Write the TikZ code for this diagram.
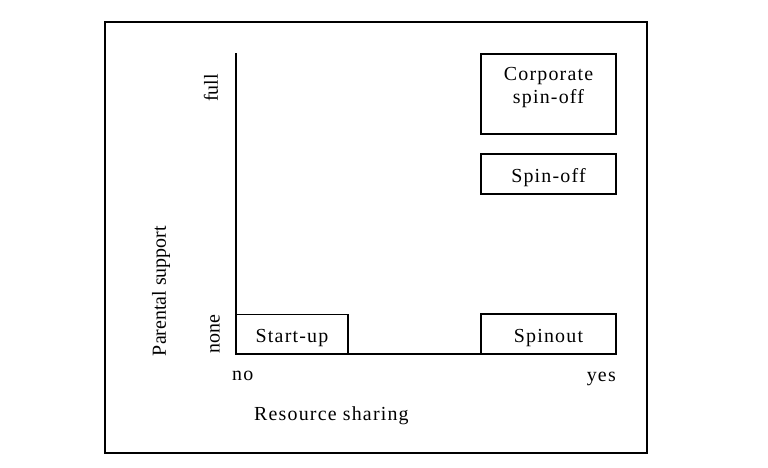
\documentclass[tikz,border=0pt]{standalone}
\usepackage{fontspec}
\setmainfont{Liberation Serif}
\newfontfamily\spaced[LetterSpace=6]{Liberation Serif}
\usepackage{tikz}
\usetikzlibrary{positioning, calc}
\tikzset{
  block/.style  = {rectangle, draw, line width=1pt, minimum width=4.05cm,
                   minimum height=1.2cm, inner sep=0pt,
                   text height=18pt, text depth=4pt,
                   font=\fontsize{17}{20}\selectfont\spaced},
  axis/.style   = {line width=1pt},
  frame/.style  = {line width=1.2pt},
  tick/.style   = {font=\fontsize{17}{20}\selectfont, inner sep=0pt},
  label/.style  = {font=\fontsize{17}{20}\selectfont\spaced, inner sep=0pt},
}

\begin{document}
\begin{tikzpicture}[x=0.03cm, y=-0.03cm]

    \useasboundingbox (0,0) rectangle (768,467);

    %% outer frame
    \draw[frame] (105,22) rectangle (647,453);

    %% axes
    \coordinate (origin) at (236,354);
    \coordinate (ytop)   at (236,53);
    \coordinate (xend)   at (615,354);
    \draw[axis] (ytop) -- (origin) -- (xend);

    %% axis ticks and titles
    \node[tick, rotate=90] (full) at (211,88)  {full};
    \node[tick, rotate=90] (none) at (215,334) {none};
    \node[tick, rotate=90] (ylab) at (161,291) {Parental support};
    \node[label, anchor=base west] (no)   at (232,380) {no};
    \node[label, anchor=base east] (yes)  at (616,381) {yes};
    \node[label, anchor=base west] (xlab) at (254,420) {Resource sharing};

    %% categories
    \node[block, minimum height=2.4cm, text height=0pt, text depth=0pt] (corp) at (548.5,94)
         {\raisebox{1.5pt}[0pt][0pt]{\begin{tabular}{@{}c@{}}Corporate\\spin-off\end{tabular}}};
    \node[block] (spinoff) at (548.5,174)   {Spin-off};
    \node[block] (spinout) at (548.5,334)   {Spinout};
    \node[block, minimum width=3.36cm] (startup) at (292,334.5) {Start-up};

  \end{tikzpicture}
\end{document}
